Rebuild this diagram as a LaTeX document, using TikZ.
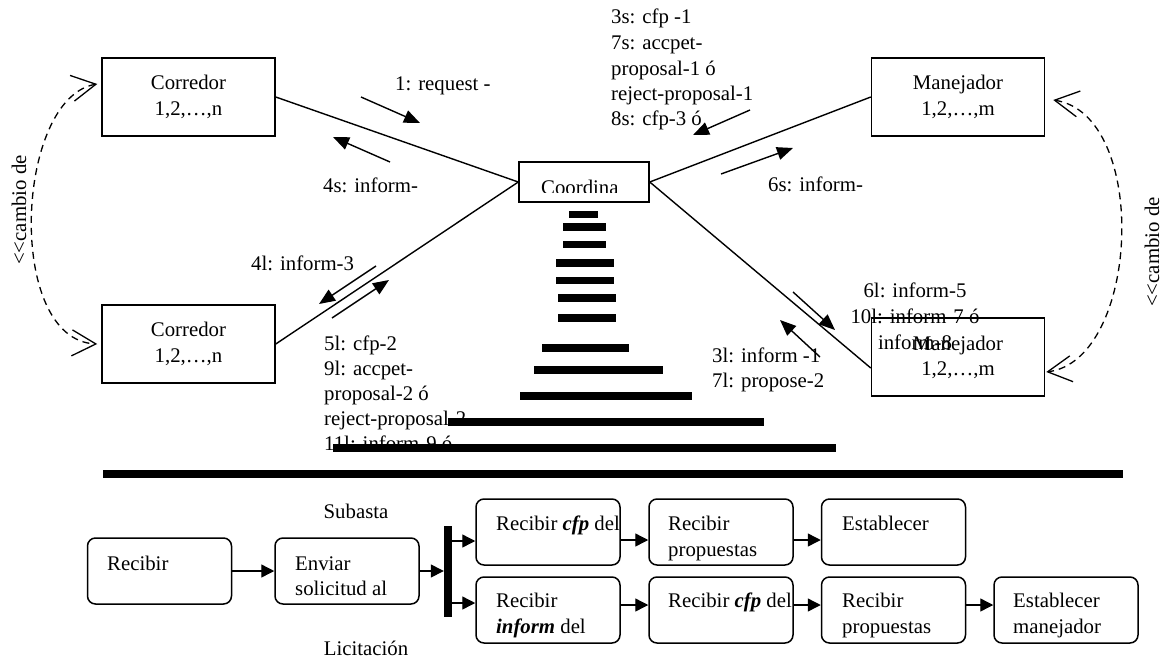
\documentclass[tikz,border=0pt]{standalone}
\usepackage{fontspec}
\setmainfont{Liberation Serif}
\usetikzlibrary{arrows.meta,calc}

\begin{document}
\begin{tikzpicture}[x=1pt,y=-1pt,
  every node/.style={font=\fontsize{20.8}{26}\selectfont, inner sep=0pt},
  agentbox/.style={draw, line width=1.5pt, minimum width=173pt, minimum height=78pt},
  link/.style={line width=1.4pt},
  msg/.style={line width=1.4pt, -{Triangle[length=16pt,width=13pt]}},
  role/.style={line width=1.3pt, dash pattern=on 7pt off 5pt,
    {Straight Barb[length=24pt,width=26pt]}-{Straight Barb[length=24pt,width=26pt]}},
  actbox/.style={draw, rounded corners=8pt, line width=1.5pt, minimum width=144pt, minimum height=66pt},
  flow/.style={line width=1.4pt, -{Triangle[length=13pt,width=13pt]}},
  lbl/.style={anchor=base west},
  ctr/.style={anchor=base}]

\useasboundingbox (0,0) rectangle (1164,661);

% ---------- agents ----------
\node[agentbox] (cor1) at (188.5,97) {};
\node[agentbox] (man1) at (958,97) {};
\node[agentbox] (cor2) at (188.5,344) {};
\node[agentbox] (man2) at (958,357) {};
\node[draw, line width=1.5pt, minimum width=130pt, minimum height=40pt] (coord) at (584,182) {};

\node[ctr] (cor1a) at (188.5,89) {Corredor};
\node[ctr] (cor1b) at (188.5,115) {1,2,…,n};
\node[ctr] (man1a) at (958,89) {Manejador};
\node[ctr] (man1b) at (958,115) {1,2,…,m};
\node[ctr] (cor2a) at (188.5,336) {Corredor};
\node[ctr] (cor2b) at (188.5,362) {1,2,…,n};
\node[ctr] (man2a) at (958,350) {Manejador};
\node[ctr] (man2b) at (958,375) {1,2,…,m};
\begin{scope}
  \clip (500,150) rectangle (660,192.5);
  \node[lbl] (coordt) at (541,194) {Coordina};
\end{scope}

% ---------- links ----------
\draw[link] (cor1.east) -- (coord.west);
\draw[link] (man1.west) -- (coord.east);
\draw[link] (cor2.east) -- (coord.west);
\draw[link] (coord.east) -- ([yshift=-11pt]man2.west);

% ---------- role change ----------
\draw[role] ([shift={(-4pt,13pt)}]cor1.west) .. controls (15,98) and (5,340) .. ([shift={(-4pt,0pt)}]cor2.west);
\draw[role] ([shift={(8pt,-3pt)}]man1.east) .. controls (1150,115) and (1140,360) .. ([shift={(1pt,-15pt)}]man2.east);
\node[rotate=90] (rolel) at (19,210) {<\kern0pt<cambio de};
\node[rotate=90] (roler) at (1152,252) {<\kern0pt<cambio de};

% ---------- messages ----------
\coordinate (a1s) at (361,97);  \coordinate (a1e) at (420,123);
\coordinate (a2s) at (390,162); \coordinate (a2e) at (333,137);
\coordinate (a3s) at (750,110); \coordinate (a3e) at (693,135);
\coordinate (a4s) at (721,174); \coordinate (a4e) at (793,148);
\coordinate (a5s) at (376,266); \coordinate (a5e) at (319,304);
\coordinate (a6s) at (332,318); \coordinate (a6e) at (389,280);
\coordinate (a7s) at (793,292); \coordinate (a7e) at (835,330);
\coordinate (a8s) at (820,357); \coordinate (a8e) at (780,320);
\draw[msg] (a1s) -- (a1e);
\draw[msg] (a2s) -- (a2e);
\draw[msg] (a3s) -- (a3e);
\draw[msg] (a4s) -- (a4e);
\draw[msg] (a5s) -- (a5e);
\draw[msg] (a6s) -- (a6e);
\draw[msg] (a7s) -- (a7e);
\draw[msg] (a8s) -- (a8e);

\node[lbl] (m1) at (395,90) {1: request -};
\node[lbl] (m4s) at (323,192) {4s: inform-};
\node[lbl] (m3a) at (611,24) {3s: cfp -1};
\node[lbl] (m3b) at (611,50) {7s: accpet-};
\node[lbl] (m3c) at (611,75) {proposal-1 ó};
\node[lbl] (m3d) at (611,100) {reject-proposal-1};
\node[lbl] (m3e) at (611,125) {8s: cfp-3 ó};
\node[lbl] (m6s) at (768,191) {6s: inform-};
\node[lbl] (m4l) at (251,270) {4l: inform-3};
\begin{scope}
  \clip (300,330) rectangle (520,452);
  \node[lbl] (m5a) at (324,350) {5l: cfp-2};
  \node[lbl] (m5b) at (324,375) {9l: accpet-};
  \node[lbl] (m5c) at (324,400) {proposal-2 ó};
  \node[lbl] (m5d) at (324,425) {reject-proposal-2};
  \node[lbl] (m5e) at (324,450) {11l: inform-9 ó};
\end{scope}
\node[lbl] (m3la) at (712,362) {3l: inform -1};
\node[lbl] (m3lb) at (712,387) {7l: propose-2};
\node[ctr] (m6a) at (915,297) {6l: inform-5};
\node[ctr] (m6b) at (915,323) {10l: inform-7 ó};
\node[ctr] (m6c) at (915,349) {inform-8};

% ---------- stacked bars ----------
\fill (569,211) rectangle (598,218);
\fill (563,223) rectangle (606,231);
\fill (563,241) rectangle (606,248);
\fill (556,259) rectangle (614,267);
\fill (556,277) rectangle (614,284);
\fill (558,294) rectangle (616,302);
\fill (558,314) rectangle (616,322);
\fill (542,344) rectangle (629,352);
\fill (534,366) rectangle (663,374);
\fill (520,392) rectangle (692,400);
\fill (448,418) rectangle (764,426);
\fill (333,444) rectangle (836,452);

% ---------- separator ----------
\fill (103,470) rectangle (1123,478);

% ---------- activity flow ----------
\node[actbox] (b0) at (159.5,571) {};
\node[actbox] (b1) at (347,571) {};
\node[fill, minimum width=8pt, minimum height=91pt] (fork) at (448,571.5) {};
\node[actbox] (bA) at (548,532) {};
\node[actbox] (bB) at (721,532) {};
\node[actbox] (bC) at (893.5,532) {};
\node[actbox] (bD) at (548,610) {};
\node[actbox] (bE) at (721,610) {};
\node[actbox] (bF) at (893.5,610) {};
\node[actbox] (bG) at (1066,610) {};

\draw[flow] (b0.east) -- (b1.west);
\draw[flow] (b1.east) -- (fork.west |- b1.east);
\draw[flow] ($(fork.east |- bA.west)+(0,9)$) -- ($(bA.west)+(0,9)$);
\draw[flow] ($(fork.east |- bD.west)+(0,-7)$) -- ($(bD.west)+(0,-7)$);
\draw[flow] ($(bA.east)+(0,8)$) -- ($(bB.west)+(0,8)$);
\draw[flow] ($(bB.east)+(0,8)$) -- ($(bC.west)+(0,8)$);
\draw[flow] ($(bD.east)+(0,-5)$) -- ($(bE.west)+(0,-5)$);
\draw[flow] ($(bE.east)+(0,-5)$) -- ($(bF.west)+(0,-5)$);
\draw[flow] ($(bF.east)+(0,-5)$) -- ($(bG.west)+(0,-5)$);

\node[lbl] (t0a) at (107,570) {Recibir};
\node[lbl] (t1a) at (295,570) {Enviar};
\node[lbl] (t1b) at (295,595) {solicitud al};
\node[lbl] (tAa) at (496,530) {Recibir \textbf{\textit{cfp}} del};
\node[lbl] (tBa) at (668,530) {Recibir};
\node[lbl] (tBb) at (668,556) {propuestas};
\node[lbl] (tCa) at (842,530) {Establecer};
\node[lbl] (tDa) at (496,607) {Recibir};
\node[lbl] (tDb) at (496,633) {\textbf{\textit{inform}} del};
\node[lbl] (tEa) at (668,607) {Recibir \textbf{\textit{cfp}} del};
\node[lbl] (tFa) at (842,607) {Recibir};
\node[lbl] (tFb) at (842,633) {propuestas};
\node[lbl] (tGa) at (1013,607) {Establecer};
\node[lbl] (tGb) at (1013,633) {manejador};

\node[ctr] (subasta) at (356,518) {Subasta};
\node[ctr] (licit) at (366,655) {Licitación};
\end{tikzpicture}
\end{document}
